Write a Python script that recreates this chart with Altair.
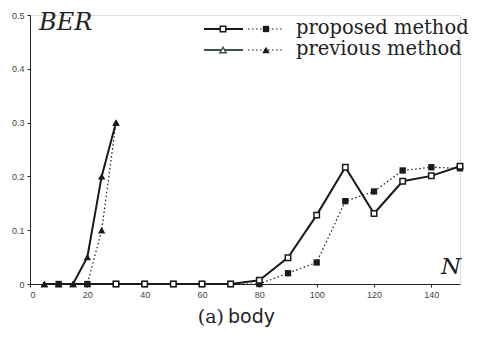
import altair as alt
import pandas as pd

# ---- data ----
N_prop = [10, 20, 30, 40, 50, 60, 70, 80, 90, 100, 110, 120, 130, 140, 150]
prop_solid = [0, 0, 0, 0, 0, 0, 0, 0.007, 0.049, 0.128, 0.217, 0.131, 0.191, 0.201, 0.219]
prop_dotted = [0, 0, 0, 0, 0, 0, 0, 0, 0.020, 0.040, 0.154, 0.172, 0.211, 0.217, 0.215]
N_prev = [5, 10, 15, 20, 25, 30]
prev_solid = [0, 0, 0, 0.05, 0.20, 0.30]
prev_dotted = [0, 0, 0, 0, 0.10, 0.30]
x_ticks = [0, 20, 40, 60, 80, 100, 120, 140]
y_ticks = [0, 0.1, 0.2, 0.3, 0.4, 0.5]
legend_labels = ["proposed method", "previous method"]

W, H = 430, 269

ps = pd.DataFrame({"N": N_prop, "BER": prop_solid})
pd_ = pd.DataFrame({"N": N_prop, "BER": prop_dotted})
vs = pd.DataFrame({"N": N_prev, "BER": prev_solid})
vd = pd.DataFrame({"N": N_prev, "BER": prev_dotted})

xs = alt.Scale(domain=[0, 150], nice=False, zero=False)
ys = alt.Scale(domain=[0, 0.5], nice=False)

xax = alt.Axis(values=x_ticks, title=None, grid=False, labelFont="Liberation Sans",
               labelFontSize=9, labelColor="#444", domainColor="#222", tickColor="#222",
               tickSize=3, labelPadding=3, domainWidth=1)
yax = alt.Axis(values=y_ticks, title=None, grid=False, labelFont="Liberation Sans",
               labelFontSize=9, labelColor="#444", domainColor="#222", tickColor="#222",
               tickSize=3, labelPadding=3, domainWidth=1,
               labelExpr="datum.value == 0 ? '0' : format(datum.value, '.1f')")

X = alt.X("N:Q", scale=xs, axis=xax)
Y = alt.Y("BER:Q", scale=ys, axis=yax)

black = "#1a1a1a"
grey = "#3f5252"

l_pd = alt.Chart(pd_).mark_line(color=black, strokeWidth=1.2, strokeDash=[1.5, 2.5]).encode(x=X, y=Y)
l_vd = alt.Chart(vd).mark_line(color=black, strokeWidth=1.2, strokeDash=[1.5, 2.5]).encode(x=X, y=Y)
l_ps = alt.Chart(ps).mark_line(color=black, strokeWidth=2).encode(x=X, y=Y)
l_vs = alt.Chart(vs).mark_line(color=black, strokeWidth=2).encode(x=X, y=Y)

m_pd = alt.Chart(pd_).mark_point(shape="square", filled=True, color=black, size=40, opacity=1).encode(x=X, y=Y)
m_vd = alt.Chart(vd).mark_point(shape="triangle-up", filled=True, color=black, size=55, opacity=1).encode(x=X, y=Y)
m_vs = alt.Chart(vs).mark_point(shape="triangle-up", filled=True, color=black, size=55, opacity=1).encode(x=X, y=Y)
m_ps = alt.Chart(ps).transform_filter("datum.N >= 30").mark_point(
    shape="square", filled=True, fill="white", stroke=black, strokeWidth=1.5, size=30, opacity=1
).encode(x=X, y=Y)

one = pd.DataFrame({"k": [0]})

ber_txt = alt.Chart(one).mark_text(text="BER", font="DejaVu Serif", fontStyle="italic",
                                   fontSize=24, align="left", baseline="middle", color="#222"
                                   ).encode(x=alt.value(9), y=alt.value(8))
n_txt = alt.Chart(one).mark_text(text="N", font="DejaVu Serif", fontStyle="italic",
                                 fontSize=23, align="left", baseline="middle", color="#222"
                                 ).encode(x=alt.value(411), y=alt.value(252))

# legend
ly = [14, 35]
leg = []
for i, lab in enumerate(legend_labels):
    col = black if i == 0 else grey
    leg.append(alt.Chart(one).mark_rule(color=col, strokeWidth=2).encode(
        x=alt.value(174), x2=alt.value(213), y=alt.value(ly[i])))
    leg.append(alt.Chart(one).mark_rule(color=black, strokeWidth=1.2, strokeDash=[1.5, 2.5]).encode(
        x=alt.value(218), x2=alt.value(254), y=alt.value(ly[i])))
    if i == 0:
        leg.append(alt.Chart(one).mark_point(shape="square", filled=True, fill="white", stroke=black,
                                             strokeWidth=1.5, size=30, opacity=1).encode(
            x=alt.value(193), y=alt.value(ly[i])))
        leg.append(alt.Chart(one).mark_point(shape="square", filled=True, color=black, size=40,
                                             opacity=1).encode(x=alt.value(236), y=alt.value(ly[i])))
    else:
        leg.append(alt.Chart(one).mark_point(shape="triangle-up", filled=True, fill="white", stroke=grey,
                                             strokeWidth=1.5, size=40, opacity=1).encode(
            x=alt.value(193), y=alt.value(ly[i])))
        leg.append(alt.Chart(one).mark_point(shape="triangle-up", filled=True, color=black, size=55,
                                             opacity=1).encode(x=alt.value(236), y=alt.value(ly[i])))
    leg.append(alt.Chart(one).mark_text(text=lab, font="DejaVu Serif", fontSize=19.5, align="left",
                                        baseline="middle", color="#222").encode(
        x=alt.value(266), y=alt.value(ly[i] - 1)))

cap_a = alt.Chart(one).mark_text(text="(a)", font="DejaVu Serif", fontSize=19, align="right",
                                 baseline="middle", color="#222").encode(x=alt.value(194), y=alt.value(302))
cap_b = alt.Chart(one).mark_text(text="body", font="DejaVu Sans", fontSize=19, align="left",
                                 baseline="middle", color="#222").encode(x=alt.value(198), y=alt.value(302))

chart = alt.layer(
    l_pd, l_vd, l_ps, l_vs, m_pd, m_vd, m_vs, m_ps, ber_txt, n_txt, *leg, cap_a, cap_b
).properties(
    width=W, height=H,
    autosize=alt.AutoSizeParams(type="none"),
    padding={"left": 22, "top": 7, "right": 19, "bottom": 47},
).configure_view(strokeWidth=0).configure(background="white")

chart.save("out.html", embed_options={"renderer": "svg", "actions": False})
